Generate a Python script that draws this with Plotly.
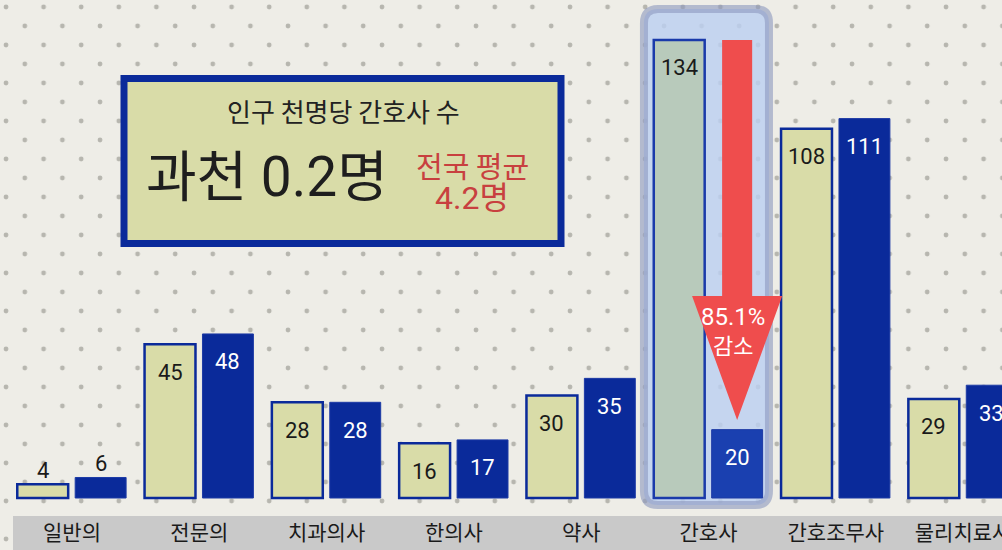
import base64
import plotly.graph_objects as go

# ---------------- data ----------------
categories = ["일반의", "전문의", "치과의사", "한의사", "약사", "간호사", "간호조무사", "물리치료사"]
light_vals = [4, 45, 28, 16, 30, 134, 108, 29]   # light bars
dark_vals = [6, 48, 28, 17, 35, 20, 111, 33]     # dark blue bars
highlight_idx = 5

box_title = "인구 천명당 간호사 수"
box_main = "과천 0.2명"
box_nat1 = "전국 평균"
box_nat2 = "4.2명"
drop_word = "감소"

# ---------------- styles ----------------
BG = "#eeede7"
KHAKI = "#d9dca8"
NAVY = "#0a2a9a"
RED = "#ef4d4d"
FONT_NUM = "Roboto, 'Noto Sans CJK KR', sans-serif"
FONT_KR = "'Noto Sans CJK KR', sans-serif"

x = list(range(len(categories)))
light_colors = ["#b8cabb" if i == highlight_idx else KHAKI for i in x]
light_lines = ["#1a3aaa" if i == highlight_idx else NAVY for i in x]
dark_colors = ["#1a40b0" if i == highlight_idx else NAVY for i in x]

L_OFF, D_OFF, BW = -0.43, 0.025, 0.40

fig = go.Figure()
fig.add_bar(x=x, y=light_vals, offset=L_OFF, width=BW,
            marker=dict(color=light_colors, line=dict(color=light_lines, width=2.5)),
            hoverinfo="skip")
fig.add_bar(x=x, y=dark_vals, offset=D_OFF, width=BW,
            marker=dict(color=dark_colors, line=dict(color="#1d3aa5", width=1)),
            hoverinfo="skip")

# value labels
annotations = []
for vals, off, inner_col in [(light_vals, L_OFF, "#1a1a1a"), (dark_vals, D_OFF, "white")]:
    for i, v in enumerate(vals):
        small = v < 10
        annotations.append(dict(
            x=i + off + BW / 2, y=v, xref="x", yref="y", text=str(v), showarrow=False,
            yshift=14 if small else -28, xanchor="center", yanchor="middle",
            font=dict(family=FONT_NUM, size=22, color="#1a1a1a" if small else inner_col)))

# background texture (decorative)
svg = (
    '<svg xmlns="http://www.w3.org/2000/svg" width="1002" height="550">'
    '<defs><pattern id="p" width="37.6" height="38" patternUnits="userSpaceOnUse">'
    '<circle cx="6" cy="7" r="2.4" fill="#a9a9a1" opacity="0.8"/>'
    '<circle cx="24.8" cy="26" r="2.4" fill="#a9a9a1" opacity="0.8"/>'
    '</pattern></defs>'
    f'<rect width="1002" height="550" fill="{BG}"/>'
    '<rect width="1002" height="550" fill="url(#p)"/></svg>'
)
svg_uri = "data:image/svg+xml;base64," + base64.b64encode(svg.encode()).decode()

PLOT_H = 516
shapes = []
# gray label band
shapes.append(dict(type="rect", xref="paper", yref="paper", x0=13 / 1002, x1=1,
                   y0=-34 / PLOT_H, y1=0, fillcolor="#c9c9c9", line=dict(width=0), layer="below"))


def rounded(x0, x1, y0, y1, rx, ry):
    return (f"M {x0+rx},{y1} L {x1-rx},{y1} Q {x1},{y1} {x1},{y1-ry} "
            f"L {x1},{y0+ry} Q {x1},{y0} {x1-rx},{y0} L {x0+rx},{y0} "
            f"Q {x0},{y0} {x0},{y0+ry} L {x0},{y1-ry} Q {x0},{y1} {x0+rx},{y1} Z")


h = highlight_idx
shapes.append(dict(type="path", xref="x", yref="y",
                   path=rounded(h - 0.507, h + 0.475, -2.05, 143.1, 0.11, 4.1),
                   fillcolor="rgba(188,208,240,0.82)",
                   line=dict(color="rgba(140,152,190,0.6)", width=8), layer="below"))

# red arrow from light value down to dark value
cx = h + D_OFF + BW / 2
sw, tw = 0.118, 0.354
top = light_vals[h]
apex = dark_vals[h] + 2.8
base = apex + 36.3
arrow = (f"M {cx-sw},{top} L {cx+sw},{top} L {cx+sw},{base} L {cx+tw},{base} "
         f"L {cx},{apex} L {cx-tw},{base} L {cx-sw},{base} Z")
shapes.append(dict(type="path", xref="x", yref="y", path=arrow,
                   fillcolor=RED, line=dict(width=0), layer="above"))

pct = (light_vals[h] - dark_vals[h]) / light_vals[h] * 100
annotations.append(dict(x=cx - 0.03, y=base - 6.2, xref="x", yref="y", text=f"{pct:.1f}%",
                        showarrow=False, xanchor="center", yanchor="middle",
                        font=dict(family=FONT_NUM, size=24, color="white")))
annotations.append(dict(x=cx - 0.03, y=base - 14.1, xref="x", yref="y", text=drop_word,
                        showarrow=False, xanchor="center", yanchor="middle",
                        font=dict(family=FONT_KR, size=22, color="white")))

# info box
shapes.append(dict(type="rect", xref="paper", yref="paper",
                   x0=124 / 1002, x1=561 / 1002, y0=1 - 243.5 / PLOT_H, y1=1 - 78.5 / PLOT_H,
                   fillcolor=KHAKI, line=dict(color=NAVY, width=7), layer="above"))
box_texts = [
    (box_title, 343, 111, FONT_KR, 26, "#222"),
    (box_main, 267, 177, FONT_NUM, 55, "#1e1e1e"),
    (box_nat1, 472, 165, FONT_KR, 29, "#c8403f"),
    (box_nat2, 472, 198, FONT_NUM, 32, "#c8403f"),
]
for txt, px, py, fam, sz, col in box_texts:
    annotations.append(dict(x=px / 1002, y=1 - py / PLOT_H, xref="paper", yref="paper",
                            text=txt, showarrow=False, xanchor="center", yanchor="middle",
                            font=dict(family=fam, size=sz, color=col)))

PX_PER_CAT = 127.3
x0 = -72 / PX_PER_CAT
PX_PER_UNIT = 3.418

fig.update_layout(
    width=1002, height=550,
    margin=dict(l=0, r=0, t=0, b=34, autoexpand=False),
    paper_bgcolor=BG, plot_bgcolor="rgba(0,0,0,0)",
    showlegend=False, barmode="overlay",
    xaxis=dict(range=[x0, x0 + 1002 / PX_PER_CAT], tickvals=x, ticktext=categories,
               showgrid=False, zeroline=False, showline=False, ticks="",
               automargin=False, ticklabeloverflow="allow", ticklabelstandoff=2,
               tickfont=dict(family=FONT_KR, size=21, color="#1a1a1a"), fixedrange=True),
    yaxis=dict(range=[-18 / PX_PER_UNIT, 498 / PX_PER_UNIT], visible=False,
               automargin=False, fixedrange=True),
    images=[dict(source=svg_uri, xref="paper", yref="paper", x=0, y=1,
                 sizex=1, sizey=550 / PLOT_H, xanchor="left", yanchor="top",
                 sizing="stretch", layer="below")],
    shapes=shapes,
    annotations=annotations,
)

fig.write_html("out.html", config={"displayModeBar": False},
               post_script="document.body.style.margin='0';document.body.style.overflow='hidden';")
